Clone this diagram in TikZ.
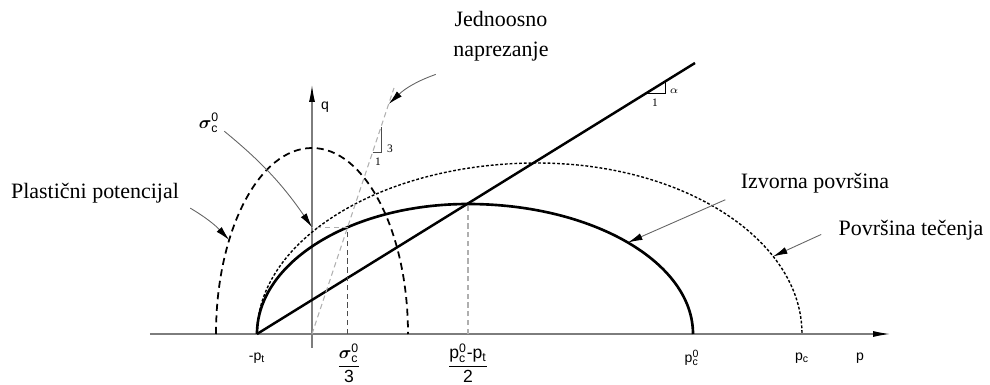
\documentclass[tikz,border=0pt]{standalone}
\usepackage{fontspec}
\setmainfont{Liberation Serif}
\setsansfont{Liberation Sans}
\usepackage{amsmath}
\usetikzlibrary{arrows.meta}
\definecolor{axisgray}{RGB}{125,125,125}
\definecolor{leadgray}{RGB}{100,100,100}
\definecolor{guidegray}{RGB}{175,175,175}

\begin{document}
\begin{tikzpicture}[x=0.02cm, y=0.02cm,
    axis/.style={draw=axisgray, line width=0.6pt, -{Latex[length=3.4mm, width=1.2mm, color=black]}},
    yieldline/.style={line width=1.5pt},
    flowline/.style={line width=0.8pt, dash pattern=on 1.6pt off 1.1pt},
    potline/.style={line width=1pt, dash pattern=on 4pt off 2.6pt},
    uniline/.style={draw=guidegray, line width=0.6pt, dash pattern=on 3pt off 2pt},
    guide/.style={line width=0.6pt, dash pattern=on 3pt off 2pt},
    lead/.style={draw=leadgray, line width=0.5pt, -{Latex[length=2.9mm, width=1.4mm, color=black]}, shorten <=2pt},
    label/.style={font=\fontsize{12.5}{17}\selectfont, inner sep=0pt},
    tick/.style={font=\sffamily\fontsize{8}{9}\selectfont},
    frac/.style={font=\sffamily\fontsize{10}{12}\selectfont},
    slope/.style={font=\fontsize{6.5}{7}\selectfont, inner sep=0pt}
  ]
    \useasboundingbox (-312,-51) rectangle (678,334);

    % Axes
    \coordinate (pstart) at (-162,0);
    \coordinate (pend) at (578,0);
    \coordinate (qstart) at (0,-14);
    \coordinate (qend) at (0,249);
    \draw[axis] (pstart) -- (pend);
    \draw[axis] (qstart) -- (qend);
    \node[tick] (plab) at (548,-24) {p};
    \node[tick] (qlab) at (13,227) {q};

    % Surfaces
    \draw[potline] (-96,0) arc[start angle=180, end angle=0, x radius=96, y radius=186];
    \draw[flowline] (-55,0) arc[start angle=180, end angle=90, x radius=280, y radius=171]
                            arc[start angle=90, end angle=0, x radius=265, y radius=171];
    \draw[yieldline] (-55,0) arc[start angle=180, end angle=90, x radius=211, y radius=130]
                             arc[start angle=90, end angle=0, x radius=225, y radius=130];

    % Lines
    \draw[line width=1.4pt] (-55,0) -- (383,271);
    \draw[uniline] (0,0) -- (82,246);

    % Guides
    \draw[guide, draw=black!70] (35.6,0) -- (35.6,106.8);
    \draw[guide, draw=guidegray] (35.6,106.8) -- (0,106.8);
    \draw[guide, draw=guidegray] (156,0) -- (156,130);

    % Slope marks
    \draw[line width=0.5pt] (334.5,241) -- (353,241) -- (353,252.4);
    \node[slope] (one1) at (343,231) {1};
    \node[slope] (alpha) at (362,243) {$\alpha$};
    \draw[line width=0.4pt, draw=black!70] (60.7,182) -- (69,182) -- (69,207);
    \node[slope] (three) at (78,185) {3};
    \node[slope] (one2) at (66,172) {1};

    % Axis labels
    \node[tick] (pt) at (-55,-24) {-$\mathsf{p}_{\mathsf t}$};
    \node[frac] (sig3) at (37,-29) {$\dfrac{\boldsymbol{\sigma}^{\mathsf 0}_{\mathsf c}}{\mathsf 3}$};
    \node[frac] (mid) at (156,-29) {$\dfrac{\mathsf{p}^{\mathsf 0}_{\mathsf c}\text{-}\mathsf{p}_{\mathsf t}}{\mathsf 2}$};
    \node[tick] (pc0) at (380,-24) {$\mathsf{p}^{\mathsf 0}_{\mathsf c}$};
    \node[tick] (pc) at (490,-24) {$\mathsf{p}_{\mathsf c}$};

    % Callout labels
    \node[label, align=center] (uni) at (189,298) {Jednoosno\\naprezanje};
    \node[frac, inner sep=0pt] (sigc) at (-103,211) {$\boldsymbol{\sigma}^{\mathsf 0}_{\mathsf c}$};
    \node[label] (plast) at (-217,141) {Plastični potencijal};
    \node[label] (izv) at (503,151) {Izvorna površina};
    \node[label] (tec) at (599,104) {Površina tečenja};

    % Callout targets
    \coordinate (uniT) at (76.7,230);
    \coordinate (sigT) at (0,106.8);
    \coordinate (plastT) at (-82.8,94);
    \coordinate (izvT) at (316,91.5);
    \coordinate (tecT) at (461,77.5);

    \draw[lead] (uni.south west) ++(-14,-12) to[bend right=12] (uniT);
    \draw[lead] (sigc.east) ++(2,-6) to[bend left=8] (sigT);
    \draw[lead] (plast.south east) ++(8,-3) to[bend left=8] (plastT);
    \draw[lead] (izv.south west) ++(-12,-5) -- (izvT);
    \draw[lead] (tec.west) ++(-14,-3) -- (tecT);
  \end{tikzpicture}
\end{document}
